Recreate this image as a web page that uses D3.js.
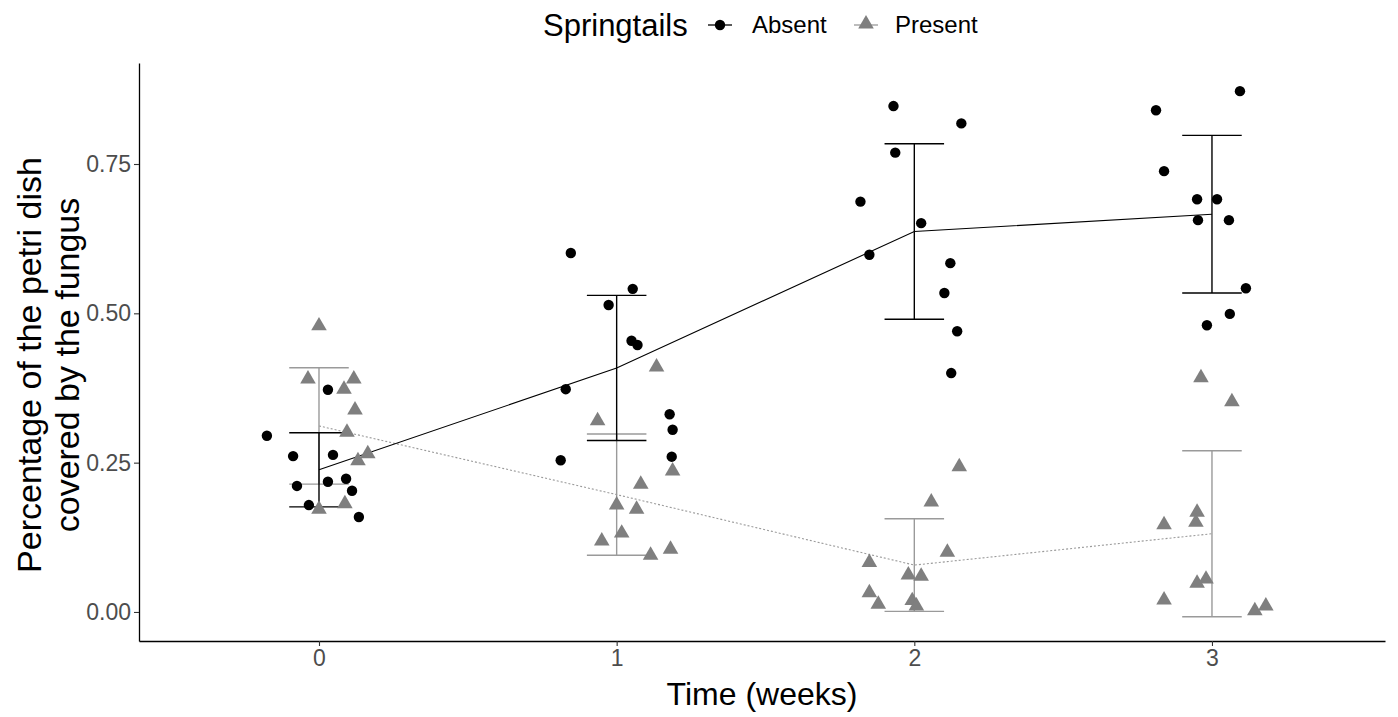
<!DOCTYPE html>
<html>
<head>
<meta charset="utf-8">
<script src="https://cdn.jsdelivr.net/npm/d3@7"></script>
<style>
  body { margin: 0; background: #fff; }
  svg text { font-family: "Liberation Sans", Arial, sans-serif; }
</style>
</head>
<body>
<svg id="chart" width="1398" height="717"></svg>
<script>
// jittered time positions and cover values
const absentTime = [
  -0.175, 0.030, -0.087, 0.047, -0.074, 0.030, 0.091, 0.111, -0.034, 0.134,
  0.846, 1.054, 0.973, 1.050, 1.070, 0.829, 1.178, 1.188, 0.812, 1.185,
  1.930, 2.158, 1.936, 1.819, 2.023, 1.849, 2.121, 2.101, 2.144, 2.124,
  3.094, 2.812, 2.839, 2.950, 3.017, 2.953, 3.057, 3.114, 3.060, 2.983
];
const absentCover = [
  0.295, 0.372, 0.261, 0.263, 0.211, 0.218, 0.223, 0.203, 0.179, 0.159,
  0.601, 0.541, 0.514, 0.454, 0.447, 0.373, 0.331, 0.305, 0.254, 0.260,
  0.847, 0.818, 0.769, 0.687, 0.651, 0.598, 0.584, 0.534, 0.470, 0.400,
  0.872, 0.840, 0.738, 0.691, 0.691, 0.656, 0.656, 0.542, 0.499, 0.480
];
const presentTime = [
  0.000, -0.037, 0.117, 0.084, 0.121, 0.094, 0.164, 0.131, 0.000, 0.087,
  1.134, 0.936, 1.188, 1.081, 1.000, 1.067, 1.017, 0.950, 1.114, 1.181,
  2.151, 2.057, 2.111, 1.849, 1.980, 2.023, 1.849, 1.879, 1.993, 2.007,
  2.963, 3.067, 2.950, 2.946, 2.839, 2.980, 2.950, 2.839, 3.144, 3.181
];
const presentCover = [
  0.479, 0.390, 0.390, 0.373, 0.338, 0.301, 0.265, 0.253, 0.172, 0.181,
  0.410, 0.320, 0.236, 0.214, 0.179, 0.172, 0.132, 0.119, 0.095, 0.105,
  0.243, 0.184, 0.100, 0.083, 0.062, 0.060, 0.032, 0.013, 0.019, 0.010,
  0.392, 0.352, 0.167, 0.150, 0.146, 0.055, 0.048, 0.020, 0.002, 0.010
];

// summary per week: mean and sd
const weeks = [0, 1, 2, 3];
const absentMean = [0.238, 0.4085, 0.637, 0.666];
const absentSd = [0.062, 0.1215, 0.147, 0.132];
const presentMean = [0.3115, 0.1965, 0.0785, 0.131];
const presentSd = [0.0975, 0.1015, 0.0775, 0.139];

const xTicks = [0, 1, 2, 3];
const yTicks = [0, 0.25, 0.5, 0.75];
const legendLabels = ["Absent", "Present"];

const svg = d3.select("#chart");
const margin = { left: 139, right: 13, top: 63, bottom: 76 };
const width = 1398, height = 717;

const x = d3.scaleLinear()
    .domain([-0.6047, 3.5813])
    .range([margin.left, width - margin.right]);
const y = d3.scaleLinear()
    .domain([-0.0486, 0.9191])
    .range([height - margin.bottom, margin.top]);

const absentCol = "#000000";
const presentCol = "#7f7f7f";
const presentBarCol = "#9a9a9a";

/* axes */
const xAxis = d3.axisBottom(x).tickValues(xTicks).tickFormat(d3.format("d"))
    .tickSizeInner(5).tickSizeOuter(0).tickPadding(4);
const yAxis = d3.axisLeft(y).tickValues(yTicks).tickFormat(d3.format(".2f"))
    .tickSizeInner(5).tickSizeOuter(0).tickPadding(3);

const xAxisG = svg.append("g")
    .attr("transform", `translate(0,${height - margin.bottom})`)
    .call(xAxis);
const yAxisG = svg.append("g")
    .attr("transform", `translate(${margin.left},0)`)
    .call(yAxis);

[xAxisG, yAxisG].forEach(g => {
  g.select(".domain").attr("stroke", "#000").attr("stroke-width", 1.3);
  g.selectAll(".tick line").attr("stroke", "#333").attr("stroke-width", 1.1);
  g.selectAll(".tick text")
      .attr("fill", "#4d4d4d")
      .style("font-size", "23px");
});

/* axis titles */
svg.append("text")
    .attr("x", (margin.left + width - margin.right) / 2)
    .attr("y", 705)
    .attr("text-anchor", "middle")
    .style("font-size", "32px")
    .text("Time (weeks)");

const yTitle = svg.append("text")
    .attr("transform", "translate(29,365) rotate(-90)")
    .attr("text-anchor", "middle")
    .style("font-size", "34px");
yTitle.append("tspan").attr("x", 0).attr("dy", "0.36em").text("Percentage of the petri dish");
yTitle.append("tspan").attr("x", 0).attr("dy", "1.1em").text("covered by the fungus");

const plot = svg.append("g");

/* error bars */
function drawBars(means, sds, col) {
  const g = plot.append("g").attr("stroke", col).attr("stroke-width", 1.4).attr("fill", "none");
  weeks.forEach((w, i) => {
    const lo = means[i] - sds[i], hi = means[i] + sds[i];
    g.append("line").attr("x1", x(w)).attr("x2", x(w)).attr("y1", y(lo)).attr("y2", y(hi));
    g.append("line").attr("x1", x(w - 0.1)).attr("x2", x(w + 0.1)).attr("y1", y(lo)).attr("y2", y(lo));
    g.append("line").attr("x1", x(w - 0.1)).attr("x2", x(w + 0.1)).attr("y1", y(hi)).attr("y2", y(hi));
  });
}
drawBars(presentMean, presentSd, presentBarCol);
drawBars(absentMean, absentSd, absentCol);

/* mean lines */
const line = d3.line().x((d, i) => x(weeks[i])).y(d => y(d));
plot.append("path")
    .datum(presentMean)
    .attr("d", line)
    .attr("fill", "none")
    .attr("stroke", presentBarCol)
    .attr("stroke-width", 1.1)
    .attr("stroke-dasharray", "2,2");
plot.append("path")
    .datum(absentMean)
    .attr("d", line)
    .attr("fill", "none")
    .attr("stroke", absentCol)
    .attr("stroke-width", 1.1);

/* points */
const tri = d3.symbol().type(d3.symbolTriangle).size(105);
plot.append("g").selectAll("path")
    .data(presentCover)
    .enter().append("path")
    .attr("d", tri)
    .attr("transform", (d, i) => `translate(${x(presentTime[i])},${y(d)})`)
    .attr("fill", presentCol);

plot.append("g").selectAll("circle")
    .data(absentCover)
    .enter().append("circle")
    .attr("cx", (d, i) => x(absentTime[i]))
    .attr("cy", d => y(d))
    .attr("r", 5.2)
    .attr("fill", absentCol);

/* legend */
const legend = svg.append("g");
legend.append("text")
    .attr("x", 543).attr("y", 36)
    .style("font-size", "31px")
    .text("Springtails");

const keyX = [720, 866];
const keyLabelX = [752, 895];
legendLabels.forEach((lab, i) => {
  const col = i === 0 ? absentCol : presentCol;
  legend.append("line")
      .attr("x1", keyX[i] - 12).attr("x2", keyX[i] + 12)
      .attr("y1", 25).attr("y2", 25)
      .attr("stroke", i === 0 ? absentCol : presentBarCol)
      .attr("stroke-width", 1.3);
  if (i === 0) {
    legend.append("circle").attr("cx", keyX[i]).attr("cy", 25).attr("r", 5.2).attr("fill", col);
  } else {
    legend.append("path").attr("d", tri).attr("transform", `translate(${keyX[i]},24)`).attr("fill", col);
  }
  legend.append("text")
      .attr("x", keyLabelX[i]).attr("y", 33)
      .style("font-size", "24px")
      .text(lab);
});
</script>
</body>
</html>
